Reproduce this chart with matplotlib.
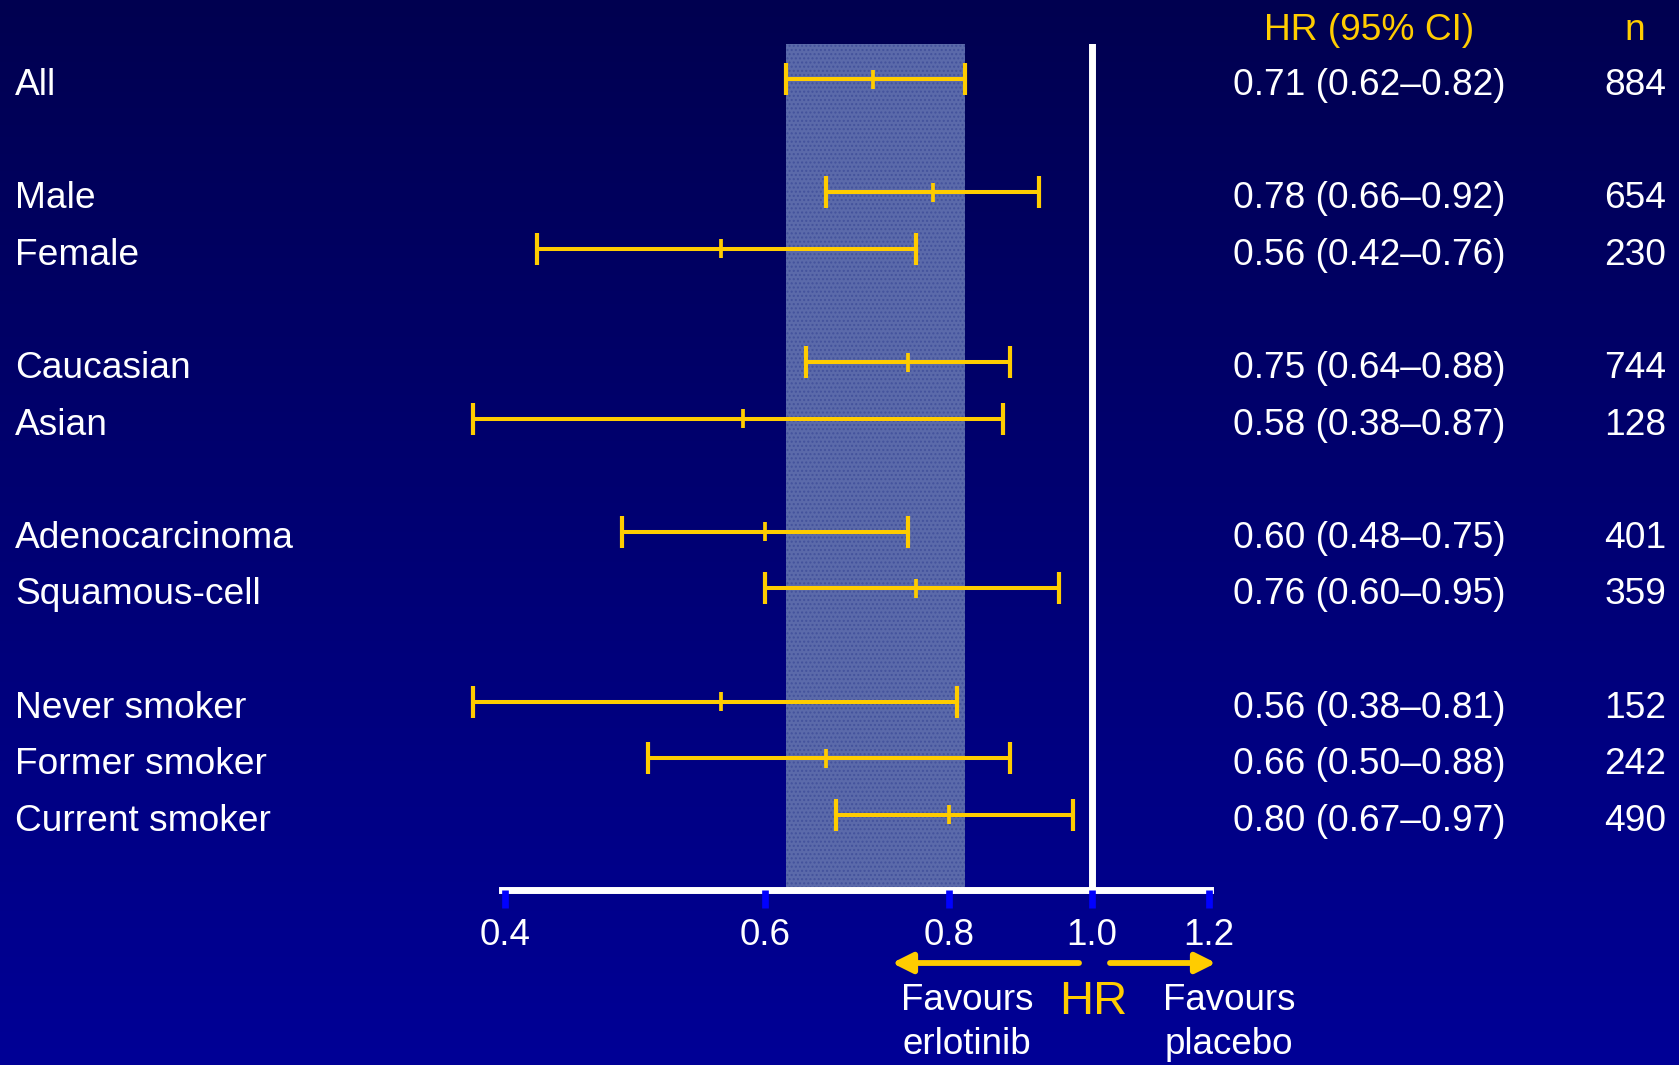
import numpy as np
import matplotlib
matplotlib.use("Agg")
import matplotlib.pyplot as plt
from matplotlib.colors import LinearSegmentedColormap
from matplotlib.patches import FancyArrowPatch
from matplotlib.ticker import NullLocator, FixedLocator, FixedFormatter
from matplotlib.transforms import blended_transform_factory, ScaledTranslation

plt.rcParams["font.family"] = ["Liberation Sans", "DejaVu Sans"]

# Subgroup hazard ratios (erlotinib vs placebo)
labels = ["All", "Male", "Female", "Caucasian", "Asian",
          "Adenocarcinoma", "Squamous-cell",
          "Never smoker", "Former smoker", "Current smoker"]
group = [0, 1, 1, 2, 2, 3, 3, 4, 4, 4]
hr = [0.71, 0.78, 0.56, 0.75, 0.58, 0.60, 0.76, 0.56, 0.66, 0.80]
ci_low = [0.62, 0.66, 0.42, 0.64, 0.38, 0.48, 0.60, 0.38, 0.50, 0.67]
ci_high = [0.82, 0.92, 0.76, 0.88, 0.87, 0.75, 0.95, 0.81, 0.88, 0.97]
n_pts = [884, 654, 230, 744, 128, 401, 359, 152, 242, 490]
tick_vals = [0.4, 0.6, 0.8, 1.0, 1.2]
tick_labels = ["0.4", "0.6", "0.8", "1.0", "1.2"]

YELLOW = "#FFCC00"
WHITE = "white"
TICK_BLUE = "#0000FF"
BAND = "#5B6AAA"

W, H = 1679, 1065
fig = plt.figure(figsize=(W / 100, H / 100), dpi=100)

# vertical navy gradient background
bg = fig.add_axes([0, 0, 1, 1], zorder=-10)
grad = np.linspace(0, 1, 256).reshape(-1, 1)
cmap = LinearSegmentedColormap.from_list("navy", ["#000050", "#000096"])
bg.imshow(grad, aspect="auto", cmap=cmap, extent=[0, 1, 0, 1], origin="upper")
bg.set_axis_off()

# row layout: one blank row between subgroup blocks
ypos = []
r = 0.0
for i, g in enumerate(group):
    if i > 0:
        r += 2.0 if g != group[i - 1] else 1.0
    ypos.append(r)
ypos = np.array(ypos)

# log-scaled plotting area; the drawn axis line spans only the tick range
ax = fig.add_axes([420 / W, 1 - 890 / H, 840 / W, 846 / H])
ax.set_xscale("log")
ax.set_xlim(0.35, 1.3)
ax.set_ylim(ypos[-1] + 1.33, -0.62)
ax.patch.set_visible(False)

# shaded band for overall confidence interval
ax.axvspan(ci_low[0], ci_high[0], facecolor=BAND, edgecolor="#43529c",
           hatch="....", lw=0, zorder=0.5)

# reference line at HR = 1
ax.axvline(1.0, color=WHITE, lw=5, zorder=1)

# confidence intervals
cap = 0.283
mid = 0.168
ax.hlines(ypos, ci_low, ci_high, color=YELLOW, lw=2.9, zorder=3)
ax.vlines(ci_low, ypos - cap, ypos + cap, color=YELLOW, lw=3.0, zorder=3)
ax.vlines(ci_high, ypos - cap, ypos + cap, color=YELLOW, lw=3.0, zorder=3)
ax.vlines(hr, ypos - mid, ypos + mid, color=YELLOW, lw=2.7, zorder=3)

for s in ["top", "left", "right"]:
    ax.spines[s].set_visible(False)
ax.spines["bottom"].set_color(WHITE)
ax.spines["bottom"].set_linewidth(5)
ax.spines["bottom"].set_bounds(tick_vals[0] * 0.995, tick_vals[-1] * 1.002)
ax.spines["bottom"].set_zorder(4)
ax.xaxis.set_zorder(5)
ax.xaxis.set_major_locator(FixedLocator(tick_vals))
ax.xaxis.set_major_formatter(FixedFormatter(tick_labels))
ax.xaxis.set_minor_locator(NullLocator())
ax.tick_params(axis="x", direction="out", length=13, width=4.8,
               color=TICK_BLUE, labelcolor=WHITE, labelsize=26.5, pad=7.5)
ax.set_yticks([])

# label columns (text sits a touch below the interval line)
tr = blended_transform_factory(fig.transFigure, ax.transData)
tr = tr + ScaledTranslation(0, -2.5 / 100, fig.dpi_scale_trans)
fs = 26.7
for y, lab, h, lo, hi, n in zip(ypos, labels, hr, ci_low, ci_high, n_pts):
    ax.text(15 / W, y, lab, transform=tr, color=WHITE, fontsize=fs,
            ha="left", va="center_baseline")
    ax.text(1369 / W, y, f"{h:.2f} ({lo:.2f}\u2013{hi:.2f})", transform=tr,
            color=WHITE, fontsize=fs, ha="center", va="center_baseline")
    ax.text(1635 / W, y, f"{n}", transform=tr, color=WHITE, fontsize=fs,
            ha="center", va="center_baseline")

fig.text(1369 / W, 1 - 26 / H, "HR (95% CI)", color=YELLOW, fontsize=fs,
         ha="center", va="center_baseline")
fig.text(1635 / W, 1 - 26 / H, "n", color=YELLOW, fontsize=fs,
         ha="center", va="center_baseline")

# direction arrows and captions under the axis
arrow_kw = dict(arrowstyle="-|>,head_length=0.6,head_width=0.3",
                color=YELLOW, lw=4.2, shrinkA=0, shrinkB=0)
ay = 1 - 963 / H
fig.add_artist(FancyArrowPatch((1079 / W, ay), (892 / W, ay),
                               transform=fig.transFigure,
                               mutation_scale=20, **arrow_kw))
fig.add_artist(FancyArrowPatch((1110 / W, ay), (1216 / W, ay),
                               transform=fig.transFigure,
                               mutation_scale=20, **arrow_kw))

fig.text(1093 / W, 1 - 997 / H, "HR", color=YELLOW, fontsize=34,
         ha="center", va="center_baseline")
for x0, lines in [(967, ["Favours", "erlotinib"]),
                  (1229, ["Favours", "placebo"])]:
    for k, line in enumerate(lines):
        fig.text(x0 / W, 1 - (997 + 44 * k) / H, line, color=WHITE,
                 fontsize=26.5, ha="center", va="center_baseline")

fig.savefig("out.png", dpi=100)
